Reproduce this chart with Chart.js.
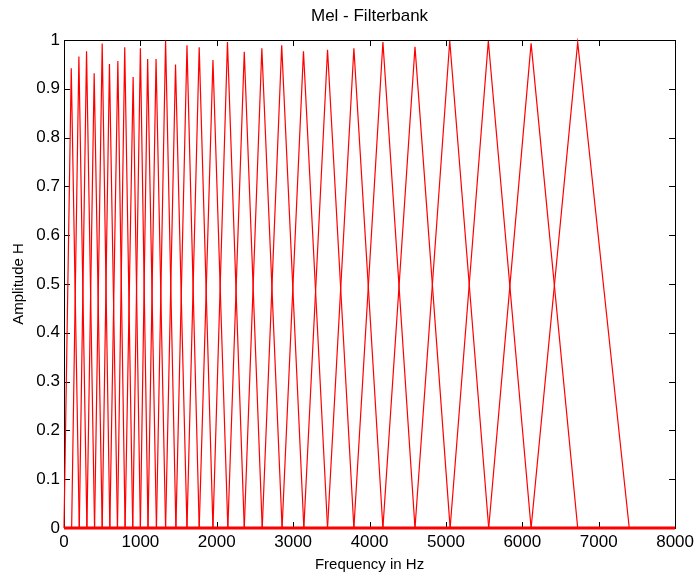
<!DOCTYPE html>
<html>
<head>
<meta charset="utf-8">
<script src="https://cdn.jsdelivr.net/npm/chart.js@4.4.1/dist/chart.umd.min.js"></script>
<style>
  html, body { margin: 0; padding: 0; background: #fff; }
  #wrap { width: 698px; height: 576px; }
</style>
</head>
<body>
<div id="wrap"><canvas id="c" width="698" height="576"></canvas></div>
<script>
// Filter band edges (Hz): each filter i rises from edgeFreqs[i] to its peak and falls to edgeFreqs[i+2]
const edgeFreqs = [0, 100, 200, 300, 400, 500, 600, 700, 800, 900, 1000, 1100, 1210, 1330, 1465, 1610,
  1770, 1950, 2145, 2360, 2595, 2855, 3140, 3450, 3795, 4175, 4595, 5055, 5560, 6115, 6725, 7400];
// Peak frequency (Hz) of each of the 30 filters
const peakFreqs = [95, 195, 295, 395, 500, 595, 705, 795, 905, 1000, 1095, 1205, 1330, 1460, 1610,
  1770, 1950, 2140, 2360, 2590, 2850, 3135, 3450, 3795, 4175, 4595, 5050, 5555, 6115, 6725];
// Peak amplitude of each filter
const peakHeights = [0.942, 0.966, 0.977, 0.932, 0.993, 0.951, 0.957, 0.985, 0.924, 0.983, 0.961, 0.961,
  0.999, 0.950, 0.989, 0.985, 0.959, 0.996, 0.976, 0.983, 0.989, 0.977, 0.980, 0.983, 0.996, 0.986,
  0.998, 0.998, 0.993, 0.995];
const xTicks = [0, 1000, 2000, 3000, 4000, 5000, 6000, 7000, 8000];
const yTicks = [0, 0.1, 0.2, 0.3, 0.4, 0.5, 0.6, 0.7, 0.8, 0.9, 1];
const freqRange = [0, 8000];
const titleText = 'Mel - Filterbank';
const xLabel = 'Frequency in Hz';
const yLabel = 'Amplitude H';

const RED = '#ff0000';
const FONT = '"Liberation Sans", Arial, Helvetica, sans-serif';

const datasets = [];
// zero baseline shared by all filters
datasets.push({
  data: [{x: freqRange[0], y: 0}, {x: freqRange[1], y: 0}],
  borderColor: RED, borderWidth: 3, pointRadius: 0, clip: 4, tension: 0
});
for (let i = 0; i < peakFreqs.length; i++) {
  datasets.push({
    data: [
      {x: edgeFreqs[i], y: 0},
      {x: peakFreqs[i], y: peakHeights[i]},
      {x: edgeFreqs[i + 2], y: 0}
    ],
    borderColor: RED, borderWidth: 1.2, pointRadius: 0, clip: 2, tension: 0
  });
}

const framePlugin = {
  id: 'frame',
  beforeDatasetsDraw(chart) {
    const {ctx, chartArea: a, scales: {x, y}} = chart;
    ctx.save();
    ctx.strokeStyle = '#000';
    ctx.lineWidth = 1;
    const tl = 6;
    ctx.beginPath();
    xTicks.forEach(v => {
      const px = Math.round(x.getPixelForValue(v)) + 0.5;
      ctx.moveTo(px, a.bottom); ctx.lineTo(px, a.bottom - tl);
      ctx.moveTo(px, a.top); ctx.lineTo(px, a.top + tl);
    });
    yTicks.forEach(v => {
      const py = Math.round(y.getPixelForValue(v)) + 0.5;
      ctx.moveTo(a.left, py); ctx.lineTo(a.left + tl, py);
      ctx.moveTo(a.right, py); ctx.lineTo(a.right - tl, py);
    });
    ctx.stroke();
    ctx.strokeRect(Math.round(a.left) + 0.5, Math.round(a.top) + 0.5,
      Math.round(a.right - a.left), Math.round(a.bottom - a.top));
    ctx.restore();
  },
  afterDraw(chart) {
    const {ctx, chartArea: a} = chart;
    ctx.save();
    ctx.fillStyle = '#000';
    ctx.font = '17px ' + FONT;
    ctx.textAlign = 'center';
    ctx.textBaseline = 'middle';
    ctx.fillText(titleText, (a.left + a.right) / 2, 16);
    ctx.restore();
  }
};

new Chart(document.getElementById('c'), {
  type: 'line',
  data: {datasets},
  options: {
    responsive: false,
    animation: false,
    events: [],
    layout: {padding: {top: 40, right: 21, left: 0, bottom: 0}},
    plugins: {legend: {display: false}, tooltip: {enabled: false}, title: {display: false}},
    scales: {
      x: {
        type: 'linear', min: freqRange[0], max: freqRange[1],
        afterBuildTicks: s => { s.ticks = xTicks.map(v => ({value: v})); },
        afterFit: s => { s.height = 48; },
        grid: {display: false, drawTicks: false},
        border: {display: false},
        ticks: {color: '#000', font: {family: FONT, size: 17}, padding: 4, maxRotation: 0, autoSkip: false,
          callback: v => String(v)},
        title: {display: true, text: xLabel, color: '#000', font: {family: FONT, size: 15}, padding: {top: 0, bottom: 2}}
      },
      y: {
        type: 'linear', min: 0, max: 1,
        afterBuildTicks: s => { s.ticks = yTicks.map(v => ({value: v})); },
        afterFit: s => { s.width = 64; },
        grid: {display: false, drawTicks: false},
        border: {display: false},
        ticks: {color: '#000', font: {family: FONT, size: 17}, padding: 4, autoSkip: false,
          callback: v => String(+v.toFixed(1))},
        title: {display: true, text: yLabel, color: '#000', font: {family: FONT, size: 15}, padding: {top: 10, bottom: 0}}
      }
    }
  },
  plugins: [framePlugin]
});
</script>
</body>
</html>
